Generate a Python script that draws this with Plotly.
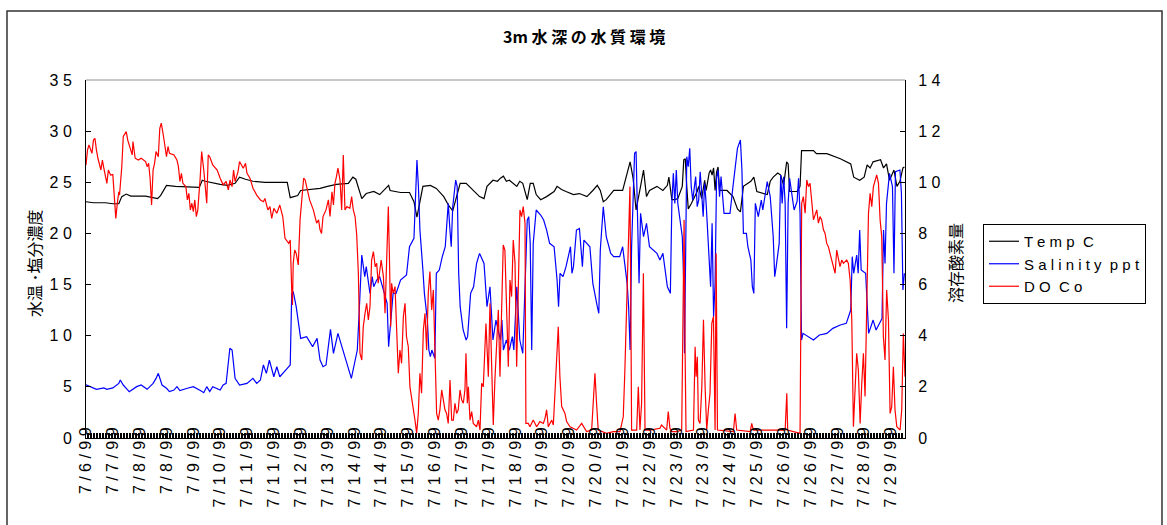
import plotly.graph_objects as go

# hours since 7/6/99 12:00 (hourly records), value readings
temp_readings = [
    (0, 23.1), (5, 23.0), (13, 23.0), (18, 22.9), (22, 22.9), (24, 23.6), (27, 23.85), (30, 23.65), (40, 23.65),
    (48, 23.4), (50, 23.7), (53, 24.4), (54, 24.7), (60, 24.6), (70, 24.5), (76, 24.5), (78, 25.2), (80, 25.1),
    (90, 24.8), (95, 24.7), (100, 24.9), (103, 25.5), (107, 25.3), (112, 25.1), (120, 25.0), (130, 25.0),
    (135, 25.0), (137, 23.5), (142, 23.7), (144, 24.2), (150, 24.3), (157, 24.4), (162, 24.6), (168, 24.8),
    (176, 24.9), (179, 25.5), (181, 25.3), (185, 23.4), (188, 23.9), (193, 24.1), (197, 23.8),
    (203, 24.7), (204, 24.2), (211, 24.0), (217, 24.0), (220, 23.1), (222, 21.6), (223, 22.3), (226, 24.6),
    (231, 24.7), (235, 24.4), (240, 23.6), (243, 22.8), (246, 22.2), (251, 24.9), (255, 24.9), (260, 24.2),
    (264, 23.6), (267, 23.4), (269, 24.6), (273, 25.2), (276, 25.1), (278, 25.4), (280, 25.6), (282, 25.1),
    (284, 25.2), (289, 24.6), (291, 25.1), (293, 24.9), (296, 23.3), (298, 24.9), (300, 24.9), (302, 23.8),
    (305, 23.3), (309, 23.6), (314, 24.1), (316, 24.6), (319, 24.3), (322, 24.1), (327, 23.8), (331, 23.9),
    (336, 23.6), (340, 24.2), (343, 24.7), (345, 24.2), (347, 23.1), (349, 23.3), (354, 24.2), (360, 24.2),
    (363, 25.9), (365, 27.0), (367, 25.4), (369, 22.3), (372, 24.6), (374, 26.2), (376, 23.6), (378, 24.2),
    (383, 24.6), (387, 24.2), (390, 24.7), (391, 25.5), (393, 23.3),
    (395, 23.3), (397, 23.4), (400, 24.6), (401, 27.2), (402, 27.3), (403, 24.6), (404, 22.4), (406, 22.9),
    (410, 24.1), (411, 24.6), (413, 23.4), (415, 25.2), (416, 24.2), (418, 25.9), (419, 26.2), (420, 25.7),
    (421, 26.4), (422, 24.2), (423, 26.0), (424, 26.5), (425, 24.2), (428, 24.2), (430, 24.2), (434, 23.6),
    (437, 22.4), (439, 22.1), (441, 24.6), (446, 25.1), (448, 25.5), (450, 24.1), (454, 23.9), (457, 23.8),
    (459, 25.1), (461, 25.5), (464, 25.9), (466, 25.7), (468, 24.7), (470, 27.0), (471, 26.8), (472, 24.1),
    (477, 24.1), (479, 24.6), (480, 28.1), (488, 28.1), (490, 27.8), (497, 27.8), (506, 27.3), (513, 26.8),
    (515, 25.5), (519, 25.2), (522, 25.5), (524, 26.7), (526, 26.4), (528, 27.0), (533, 27.2), (535, 26.4),
    (537, 26.8), (539, 25.2), (542, 26.2), (544, 24.6), (546, 25.1), (548, 26.4), (549, 26.5),
]

salinity_readings = [
    (0, 5.2), (3, 5.0), (7, 4.75), (12, 4.9), (14, 4.76), (18, 4.9), (22, 5.34), (23, 5.67), (25, 5.18),
    (27, 4.86), (29, 4.53), (34, 5.02), (37, 5.18), (41, 4.76), (43, 5.02), (45, 5.34), (47, 5.83), (48.5, 6.32),
    (51, 5.18), (54, 4.86), (56, 4.53), (59, 4.69), (61, 5.02), (63, 4.63), (68, 4.86), (72, 5.02), (77, 4.63),
    (79, 4.43), (81, 5.02), (83, 4.53), (85, 5.02), (90, 4.69), (92, 5.18), (94, 5.34), (96.5, 8.77), (98, 8.6),
    (100, 5.83), (103, 5.18), (108, 5.34), (112, 5.83), (114.5, 5.34), (117, 5.67), (119, 7.14), (121, 6.32),
    (123, 7.62), (126, 5.99), (128, 6.97), (130, 5.99), (135, 6.81), (137, 7.14), (138, 14.14), (139, 14.3),
    (141, 12.84), (144, 9.74), (148, 9.91), (152, 8.93), (155, 9.74), (157, 7.62), (159, 6.97), (161, 7.14),
    (164, 10.62), (166, 8.28), (169, 10.23), (173, 8.12), (175, 7.3), (178, 5.83), (182, 8.6), (183, 11.53),
    (185, 17.89), (187, 15.77), (188, 16.75), (190.5, 14.14), (192, 15.77), (193, 14.79), (195, 15.44), (197, 15.77),
    (199, 14.79), (202, 13.16), (203, 8.93), (206, 14.14), (208, 14.14), (211, 15.44), (215, 15.93), (217, 18.7),
    (220, 19.52), (221, 22.94), (222, 27.17), (223, 24.57), (224, 20.33), (226, 16.42), (227, 14.14), (229, 11.53),
    (230, 8.6), (231, 7.95), (232, 8.6), (234, 7.79), (235, 16.1), (237, 16.42), (239, 17.73), (241, 18.7),
    (242, 21.31), (243, 22.94), (244, 20.66), (245, 18.7), (246, 22.61), (248, 25.22), (249, 24.57), (250, 16.1),
    (251, 12.84), (253, 10.56), (255, 9.58), (256, 9.91), (258, 14.14), (260, 14.79), (262, 17.07), (264, 18.05),
    (267, 17.07), (269, 12.84), (271, 14.79), (273, 9.58), (275, 11.53), (278, 9.58), (279, 11.53), (280, 8.6),
    (282, 9.58), (284, 8.6), (286, 9.91), (287, 8.6), (289, 14.79), (291, 9.58), (293, 8.28), (296, 21.31),
    (297, 21.64), (298, 19.03), (299, 8.6), (300, 19.03), (302, 22.29), (305, 21.8), (307, 21.31), (309, 20.33),
    (311, 19.03), (314, 18.7), (316, 15.44), (317, 12.84), (318, 16.1), (320, 15.77), (322, 16.75), (325, 18.7),
    (326, 16.1), (327, 16.75), (329, 20.33), (331, 20.49), (333, 16.75), (334, 19.35), (338, 18.7), (340, 15.12),
    (343, 12.84), (344, 12.19), (345, 18.38), (347, 22.61), (349, 19.68), (352, 18.05), (354, 17.73), (358, 17.73),
    (360, 18.7), (363, 15.12), (364, 12.84), (365, 8.6), (366, 18.7), (367, 22.94), (368, 27.83), (369, 28.0),
    (371, 15.12), (372, 21.96), (374, 19.68), (376, 20.98), (378, 18.7), (383, 18.05), (385, 17.4), (387, 18.05),
    (390, 14.79), (392, 14.14),
    (393, 22.94), (394, 25.87), (395, 22.94), (396, 26.2), (397, 22.94), (400, 19.68), (401, 15.12), (401.5, 8.28),
    (402, 14.79), (403, 27.5), (404, 26.52), (405, 28.32), (406, 24.57), (407, 23.26), (409, 25.55), (410, 22.61),
    (411, 23.26), (412, 26.03), (413, 23.92), (414, 21.64), (415, 24.89), (416, 22.94), (419, 14.79), (420, 21.0),
    (421, 11.86), (422, 15.12), (423, 25.38), (424, 26.2), (425, 23.59), (426, 25.55), (428, 21.96), (430, 21.96),
    (432, 21.96), (434, 24.57), (437, 28.32), (439, 29.13), (440, 26.2), (441, 20.0), (443, 20.0), (444, 18.7),
    (446, 17.4), (447, 14.79), (448, 14.14), (449, 22.94), (451, 21.64), (453, 23.26), (454, 22.29), (457, 25.06),
    (459, 23.59), (461, 19.68), (462, 15.77), (463, 16.75), (465, 19.03), (466, 25.71), (467, 22.94), (468, 25.55),
    (469, 22.94), (470, 10.72), (471, 22.94), (472, 25.38), (475, 22.29), (477, 23.1), (478, 25.38), (479, 21.96),
    (480, 9.58), (481, 10.23), (488, 9.58), (492, 10.07), (497, 10.23), (501, 10.72), (506, 11.05), (510, 11.21),
    (513, 12.51), (514, 17.73), (515, 16.1), (517, 17.89), (518, 16.1), (519, 20.33), (520, 16.42), (523, 16.1),
    (524, 12.84), (525, 10.23), (528, 11.53), (530, 10.56), (534, 11.69), (535, 20.33), (536, 17.07), (537, 22.94),
    (539, 25.87), (541, 24.57), (542, 16.1), (543, 26.03), (546, 26.2), (547, 23.92), (548, 14.47), (549, 16.1),
]

do_readings = [
    (0, 10.68), (1, 11.26), (2, 11.46), (4, 11.13), (5, 11.65), (6, 11.72), (7, 11.26), (8, 10.94), (10, 10.48),
    (11, 10.87), (12, 10.54), (13, 10.22), (14, 9.96), (15, 10.48), (16.5, 10.28), (18, 10.3), (19.5, 8.78),
    (20, 8.59), (21, 9.18), (22, 9.63), (22.5, 9.5), (24, 10.61), (25, 11.79), (27, 11.98), (28, 11.65),
    (29, 11.46), (31, 11.07), (31.5, 11.59), (33, 10.94), (35, 10.87), (37, 10.94), (40, 10.81), (41, 10.61),
    (42, 10.74), (43, 10.16), (44, 9.11), (45, 10.48), (46, 10.74), (47, 11.2), (48.5, 11.0), (49.5, 12.11),
    (50.5, 12.31), (51.5, 12.05), (52, 11.79), (54, 11.0), (55, 11.4), (56, 11.13), (59, 11.07), (61, 10.87),
    (62, 10.61), (63, 10.03), (64, 10.35), (65, 9.96), (67, 9.83), (68, 9.31), (69, 9.57), (70, 8.92), (71, 9.18),
    (72, 8.85), (73, 9.31), (74, 8.66), (75, 8.92), (76.5, 10.09), (77.6, 11.2), (79, 10.48), (80, 9.7), (81, 9.18),
    (82, 11.07), (83, 11.0), (85, 10.68), (88, 10.48), (90, 10.16), (92, 9.9), (94, 10.03), (95.5, 9.7),
    (96.6, 10.09), (98, 9.83), (99, 10.48), (100, 10.03), (101, 10.22), (102, 10.42), (103, 10.81), (105.5, 10.55),
    (107, 10.74), (108, 10.35), (110, 10.16), (112, 9.77), (114.5, 9.5), (117, 9.31), (119, 9.24), (120, 9.37),
    (122, 8.92), (123.4, 9.05), (124.6, 8.59), (126, 8.98), (128, 8.79), (130, 9.11), (132, 8.66), (133.5, 7.81),
    (136, 7.61), (137, 7.74), (138, 5.79), (138.5, 5.2), (139, 6.83), (140, 7.35), (141, 7.22), (142.4, 6.77),
    (143.6, 8.53), (144.7, 9.31), (146, 10.16), (147, 10.09), (148, 9.83), (150, 9.31), (152.5, 8.92),
    (153.6, 8.66), (154.7, 8.4), (156, 8.53), (157, 8.14), (158, 8.0), (159, 8.66), (161, 8.92), (162.6, 9.31),
    (163.7, 8.66), (165, 9.63), (166, 9.11), (167, 9.96), (168, 10.22), (169, 10.55), (170.4, 10.09),
    (171.5, 8.92), (172.6, 11.07), (173.7, 8.92), (175, 9.05), (177, 8.98), (178.2, 9.44), (179.3, 8.92),
    (180.5, 8.66), (181.6, 7.94), (182.7, 6.44), (183.8, 3.31), (185, 3.05), (186, 4.35), (187.2, 4.88),
    (188.3, 5.27), (189.4, 4.62), (190.5, 5.14), (191.6, 6.96), (192.8, 7.29), (194, 6.7), (195, 6.83), (196, 6.05),
    (197, 6.57),
    (198, 6.96), (199.5, 6.31), (200.6, 4.88), (201.7, 6.96), (202.8, 9.05), (203.5, 7.22), (204.4, 4.35),
    (205, 6.05), (206, 5.66), (207.3, 5.92), (208.4, 4.22), (209.5, 2.53), (210.6, 3.44), (211.7, 2.92),
    (212.9, 4.75), (214, 5.27), (215, 3.96), (216.2, 3.57), (217.3, 2.0), (218.4, 1.62), (219.6, 1.23),
    (220.7, 0.7), (221.8, 0.18), (222.9, 0.96), (224, 2.53), (225.1, 1.75), (226.3, 4.22), (227.4, 4.88),
    (228.5, 3.44), (229.6, 5.66), (230.7, 6.51), (231.9, 5.01), (233, 5.79), (234.1, 3.31), (235.2, 0.96),
    (236.3, 0.7), (237.4, 1.1), (238.6, 1.88), (239.7, 1.49), (240.8, 1.1), (241.9, 0.96), (243, 0.57),
    (244.2, 2.27), (245.3, 0.7), (246.4, 0.7), (247.5, 1.36), (248.6, 0.96), (249.7, 1.1), (250.9, 1.88),
    (252, 1.49), (253.1, 1.36), (254.2, 1.88), (254.9, 3.31), (255.8, 1.36), (256.5, 2.0), (257.6, 0.7),
    (258.7, 1.03), (259.8, 0.57), (262, 0.44), (263.2, 0.7), (264.3, 0.31), (265.4, 2.14), (266.5, 2.0),
    (267.6, 3.44), (268.3, 4.48), (269.2, 3.31), (269.9, 2.4), (271, 5.27), (272.1, 3.31), (273.2, 0.51),
    (274.3, 2.27), (275.5, 4.09), (276.6, 5.01), (277.7, 2.4), (278.8, 4.62), (279.9, 7.55), (281, 7.35),
    (282.2, 4.62), (283.3, 2.79), (284.4, 6.18), (285.5, 5.53), (286.6, 7.74), (287.8, 6.83), (288.9, 2.79),
    (290, 6.57), (291.1, 8.92), (292.2, 8.66), (293.3, 9.05), (294.5, 8.4), (295.1, 0.57), (296.7, 0.57),
    (297.8, 0.44), (300, 0.7), (302.3, 0.44), (304.5, 0.64), (306.8, 0.57), (307.9, 0.77), (309, 1.1),
    (310.1, 0.44), (312.4, 0.7), (313.5, 0.51), (314.6, 2.0), (315.7, 3.31), (316.8, 4.35), (317.9, 2.4),
    (319.1, 1.23), (321.3, 0.96), (322.4, 0.64), (324.7, 0.44), (329.1, 0.31), (332.5, 0.57), (335.8, 0.25),
    (339.2, 0.31), (340.3, 1.49), (341.4, 2.53), (342.5, 1.36), (343.6, 0.31), (349.2, 0.18), (353.7, 0.25),
    (358.2, 0.25), (360.4, 0.83), (361.5, 2.66), (362.7, 5.14), (363.8, 7.48), (364.9, 9.83), (365.4, 5.92),
    (366, 0.31), (369.4, 0.31), (370.5, 2.0), (371.6, 0.31), (372.7, 1.36), (373.9, 6.44), (375, 0.31),
    (378.3, 0.31), (385, 0.38), (386.1, 0.51), (389.5, 0.31), (390.6, 1.03), (391.7, 0.38), (392.9, 0.25),
    (396.2, 0.25), (399.6, 0.31), (400.3, 3.31), (401.2, 8.53), (401.9, 3.31), (402.5, 0.25), (407.5, 0.31),
    (408.6, 3.57), (409.3, 2.4), (410.1, 3.18), (410.8, 0.7), (411.9, 0.57), (413.1, 2.0), (414.2, 4.62),
    (415.3, 2.0), (416.4, 0.31), (417.5, 1.1), (418.6, 1.75), (419.8, 4.48), (420.9, 4.75), (422, 0.31),
    (422.7, 7.22), (423.6, 0.31), (434.3, 0.25), (435.4, 0.96), (436.5, 0.31), (445.5, 0.25), (446.6, 0.57),
    (447.7, 0.31), (469, 0.31), (470.1, 1.75), (470.7, 0.31), (479, 0.18), (479.5, 5.92), (480.1, 9.18),
    (481.2, 9.44), (482.4, 8.79), (483.5, 10.09), (484.6, 9.83), (485.7, 9.96), (486.8, 9.18), (488, 8.53),
    (490.2, 8.92), (491.3, 8.4), (492.4, 8.66), (493.5, 8.53), (494.7, 8.14), (495.8, 8.0), (496.9, 7.61),
    (498, 7.48), (499.1, 7.22), (500.3, 6.96), (501.4, 6.7), (502.5, 6.44), (503.6, 7.35), (504.7, 6.96),
    (505.8, 6.7), (507, 6.96), (508.1, 6.83), (510.3, 6.96), (511.4, 6.83), (512.6, 6.18), (513.7, 4.62),
    (514.8, 0.44), (515.9, 2.0), (517, 3.31), (518.1, 2.66), (519.3, 0.57), (520.4, 2.14), (521.5, 3.31),
    (522.6, 1.62), (523.7, 4.62), (524.9, 8.79), (526, 9.57), (527.1, 9.05), (528.2, 9.83), (529.3, 10.09),
    (530.4, 10.29), (531.6, 9.96), (532.7, 8.53), (533.8, 7.87), (534.9, 3.96), (536, 3.05), (537.1, 5.79),
    (538.3, 4.62), (539.4, 0.96), (540.5, 1.23), (541.6, 2.79), (542.7, 1.1), (543.9, 0.44), (546.1, 0.31),
    (547.2, 1.1), (548.3, 4.09), (549.4, 2.4),
]

x_tick_hours = list(range(0, 541, 18))
x_tick_labels = ["7/6/99", "7/7/99", "7/8/99", "7/8/99", "7/9/99", "7/10/99", "7/11/99", "7/11/99",
                 "7/12/99", "7/13/99", "7/14/99", "7/14/99", "7/15/99", "7/16/99", "7/17/99", "7/17/99",
                 "7/18/99", "7/19/99", "7/20/99", "7/20/99", "7/21/99", "7/22/99", "7/23/99", "7/23/99",
                 "7/24/99", "7/25/99", "7/26/99", "7/26/99", "7/27/99", "7/28/99", "7/29/99"]
left_ticks = [0, 5, 10, 15, 20, 25, 30, 35]
right_ticks = [0, 2, 4, 6, 8, 10, 12, 14]

series_names = ["T e m p  C", "S a l i n i t y  p p t", "D O  C o"]
title_text = "3m 水 深 の 水 質 環 境"
left_title = "水温 ･塩分濃度"
right_title = "溶存酸素量"

LAT = "Liberation Sans, Arial, sans-serif"
JP = "Noto Sans CJK JP, sans-serif"


def spaced(s):
    return " ".join(list(s))


def unzip(pairs):
    return [p[0] for p in pairs], [p[1] for p in pairs]


th, tv = unzip(temp_readings)
sh, sv = unzip(salinity_readings)
dh, dv = unzip(do_readings)

fig = go.Figure()
fig.add_trace(go.Scatter(x=th, y=tv, mode="lines", name=series_names[0],
                         line=dict(color="#000000", width=1.2)))
fig.add_trace(go.Scatter(x=sh, y=sv, mode="lines", name=series_names[1],
                         line=dict(color="#0000FF", width=1.2)))
fig.add_trace(go.Scatter(x=dh, y=dv, mode="lines", name=series_names[2], yaxis="y2",
                         line=dict(color="#FF0000", width=1.2)))

W, H = 1167, 525
L, R, T, B = 86, 905, 80, 438


def px(xp):
    return (xp - L) / (R - L)


def py(yp):
    return (B - yp) / (B - T)


fig.update_layout(
    width=W, height=H,
    margin=dict(l=L, r=W - R, t=T, b=H - B, autoexpand=False),
    paper_bgcolor="white", plot_bgcolor="white",
    font=dict(family=LAT, size=16, color="#000000"),
    showlegend=True,
    legend=dict(x=px(983), y=py(224), xanchor="left", yanchor="top",
                bordercolor="#000000", borderwidth=1, bgcolor="white",
                font=dict(family=LAT, size=15, color="#000000"),
                tracegroupgap=0, itemwidth=30),
    xaxis=dict(range=[0, 549.4], tickmode="array", tickvals=x_tick_hours,
               ticktext=[spaced(t) for t in x_tick_labels], tickangle=-90,
               ticks="inside", ticklen=5, tickcolor="#000000", automargin=False,
               showline=True, linecolor="#000000", linewidth=1,
               showgrid=False, zeroline=False, ticklabelstandoff=-18,
               tickfont=dict(family=LAT, size=16, color="#000000"),
               minor=dict(ticks="inside", ticklen=5, tick0=0, dtick=1,
                          tickcolor="#000000", showgrid=False)),
    yaxis=dict(range=[0, 35], tickmode="array", tickvals=left_ticks,
               ticktext=[spaced(str(v)) for v in left_ticks], automargin=False,
               ticks="inside", ticklen=5, tickcolor="#000000",
               showline=True, linecolor="#000000", linewidth=1,
               showgrid=False, zeroline=False, ticklabelstandoff=10,
               tickfont=dict(family=LAT, size=16, color="#000000")),
    yaxis2=dict(range=[0, 14], overlaying="y", side="right", tickmode="array",
                tickvals=right_ticks, ticktext=[spaced(str(v)) for v in right_ticks],
                ticks="inside", ticklen=5, tickcolor="#000000", automargin=False,
                showline=True, linecolor="#000000", linewidth=1,
                showgrid=False, zeroline=False, ticklabelstandoff=9,
                tickfont=dict(family=LAT, size=16, color="#000000")),
    shapes=[
        dict(type="line", xref="paper", yref="paper", x0=0, x1=1, y0=1, y1=1,
             line=dict(color="#909090", width=1)),
        dict(type="rect", xref="paper", yref="paper", x0=px(7), x1=px(1162), y0=py(540), y1=py(11),
             line=dict(color="#333333", width=1.5)),
    ],
    annotations=[
        dict(text="<b>" + title_text + "</b>", xref="paper", yref="paper", x=px(584), y=py(36),
             showarrow=False, font=dict(family=JP, size=16, color="#000000"),
             xanchor="center", yanchor="middle"),
        dict(text=left_title, xref="paper", yref="paper", x=px(34), y=py(263), textangle=-90,
             showarrow=False, font=dict(family=JP, size=16, color="#000000"),
             xanchor="center", yanchor="middle"),
        dict(text=right_title, xref="paper", yref="paper", x=px(955), y=py(263), textangle=-90,
             showarrow=False, font=dict(family=JP, size=16, color="#000000"),
             xanchor="center", yanchor="middle"),
    ],
)

fig.write_html("out.html", config={"displayModeBar": False},
               post_script="document.body.style.margin='0';document.body.style.overflow='hidden';")
